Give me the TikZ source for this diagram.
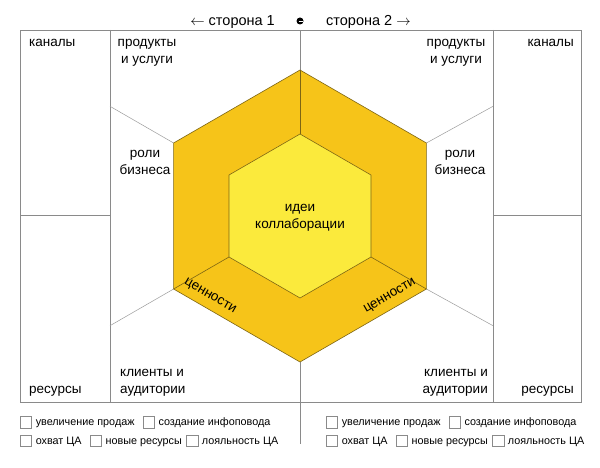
\documentclass[tikz,border=0pt]{standalone}
\usepackage{fontspec}
\setmainfont{Liberation Sans}
\usetikzlibrary{positioning,calc}
\definecolor{framegray}{HTML}{8A8A8A}
\definecolor{ringfill}{HTML}{F6C419}
\definecolor{corefill}{HTML}{FBEA3C}
\definecolor{hexline}{HTML}{7D6514}
\tikzset{zone/.style={inner sep=0pt, font=\fontsize{13.5}{17}\selectfont}}
\tikzset{cbox/.style={draw=framegray, minimum size=11.5pt, inner sep=0pt, line width=0.6pt}}
\tikzset{cbtext/.style={inner sep=0pt, text height=8pt, text depth=1.4pt, font=\fontsize{10.8}{13}\selectfont}}
\tikzset{grid line/.style={draw=framegray, line width=0.8pt}}
\tikzset{spoke/.style={draw=framegray!85, line width=0.5pt}}

\begin{document}
\begin{tikzpicture}[x=1pt, y=-1pt]
\useasboundingbox[fill=white] (0,0) rectangle (600,468);
% hexagon corners
\coordinate (o1) at (300,70);
\coordinate (o2) at (426.4,143);
\coordinate (o3) at (426.4,289);
\coordinate (o4) at (300,362);
\coordinate (o5) at (173.6,289);
\coordinate (o6) at (173.6,143);
\coordinate (i1) at (300,134);
\coordinate (i2) at (371,175);
\coordinate (i3) at (371,257);
\coordinate (i4) at (300,298);
\coordinate (i5) at (229,257);
\coordinate (i6) at (229,175);
% frame ends
\coordinate (top) at (300,30);
\coordinate (bottom) at (300,444);
\coordinate (ul) at (110,106.3);
\coordinate (ll) at (110,325.7);
\coordinate (ur) at (493,106.3);
\coordinate (lr) at (493,325.7);
\draw[grid line] (20,30) rectangle (581,402);
\draw[grid line] (110,30) -- (110,402);
\draw[grid line] (493,30) -- (493,402);
\draw[grid line] (20,215) -- (110,215);
\draw[grid line] (493,215) -- (581,215);
\draw[grid line] (top) -- (o1);
\draw[grid line] (o4) -- (bottom);
\path[spoke] (o6) -- (ul);
\path[spoke] (o5) -- (ll);
\path[spoke] (o2) -- (ur);
\path[spoke] (o3) -- (lr);
\filldraw[fill=ringfill, draw=hexline, line width=0.6pt] (o1) -- (o2) -- (o3) -- (o4) -- (o5) -- (o6) -- cycle;
\filldraw[fill=corefill, draw=hexline, line width=0.6pt] (i1) -- (i2) -- (i3) -- (i4) -- (i5) -- (i6) -- cycle;
\draw[hexline, line width=0.6pt] (o1) -- (i1);
\draw[hexline, line width=0.6pt] (o3) -- (i3);
\draw[hexline, line width=0.6pt] (o5) -- (i5);
% top
\node [zone, font=\fontsize{14.5}{17}\selectfont, anchor=base east] (side1) at (275,26) {\(\leftarrow\) сторона 1};
\node [zone, font=\fontsize{14.5}{17}\selectfont, anchor=base west] (side2) at (326,26) {сторона 2 \(\rightarrow\)};
\node [circle, fill=black, minimum size=7pt, inner sep=0pt] (pin) at (300,21) {};
\draw[white, line width=0.7pt] ($(pin.center)+(-1.5,0.8)$) -- ($(pin.center)+(2.6,0.8)$);
% side 1
\node [zone, anchor=base west] (chan1) at (29,47) {каналы};
\node [zone, anchor=base west] (res1) at (29,393) {ресурсы};
\node [zone, anchor=base, align=center] (prod1) at (147,64) {продукты\\и услуги};
\node [zone, anchor=base, align=center] (role1) at (145,175) {роли\\бизнеса};
\node [zone, anchor=base west, align=left] (cli1) at (120,393) {клиенты и\\аудитории};
% side 2
\node [zone, anchor=base east] (chan2) at (574,47) {каналы};
\node [zone, anchor=base east] (res2) at (574,393) {ресурсы};
\node [zone, anchor=base, align=center] (prod2) at (456,64) {продукты\\и услуги};
\node [zone, anchor=base, align=center] (role2) at (460,175) {роли\\бизнеса};
\node [zone, anchor=base east, align=right] (cli2) at (488,393) {клиенты и\\аудитории};
% middle
\node [zone, align=center] (idea) at (300,218) {идеи\\коллаборации};
\node [zone, rotate=-30] (val1) at (210,296.5) {ценности};
\node [zone, rotate=30] (val2) at (390,296.5) {ценности};
% goals, side 1
\node [cbox] (a1) at (26,422.5) {};
\node [cbtext, right=3.5pt of a1] (a1t) {увеличение продаж};
\node [cbox, right=8pt of a1t] (a2) {};
\node [cbtext, right=3.5pt of a2] (a2t) {создание инфоповода};
\node [cbox] (a3) at (26,441) {};
\node [cbtext, right=3.5pt of a3] (a3t) {охват ЦА};
\node [cbox, right=8pt of a3t] (a4) {};
\node [cbtext, right=3.5pt of a4] (a4t) {новые ресурсы};
\node [cbox, right=4pt of a4t] (a5) {};
\node [cbtext, right=3.5pt of a5] (a5t) {лояльность ЦА};
% goals, side 2
\node [cbox] (b1) at (332,422.5) {};
\node [cbtext, right=3.5pt of b1] (b1t) {увеличение продаж};
\node [cbox, right=8pt of b1t] (b2) {};
\node [cbtext, right=3.5pt of b2] (b2t) {создание инфоповода};
\node [cbox] (b3) at (332,441) {};
\node [cbtext, right=3.5pt of b3] (b3t) {охват ЦА};
\node [cbox, right=8pt of b3t] (b4) {};
\node [cbtext, right=3.5pt of b4] (b4t) {новые ресурсы};
\node [cbox, right=4pt of b4t] (b5) {};
\node [cbtext, right=3.5pt of b5] (b5t) {лояльность ЦА};
\end{tikzpicture}
\end{document}
